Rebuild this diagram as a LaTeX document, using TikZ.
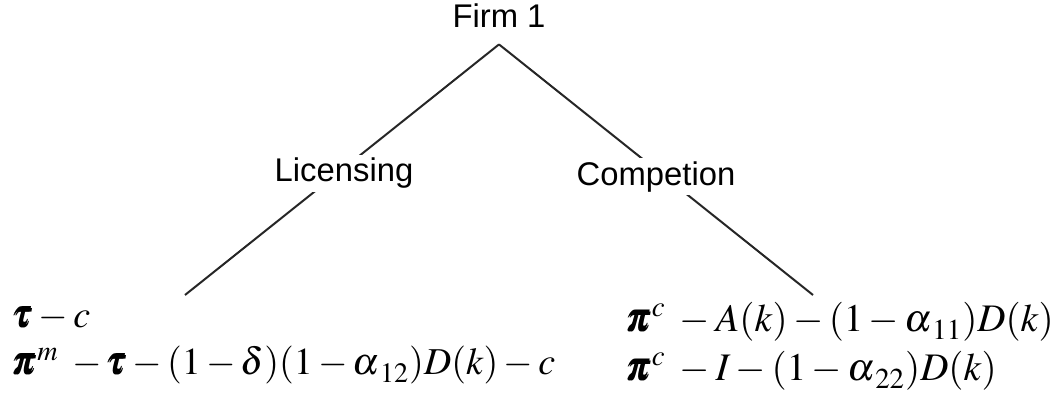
\documentclass[tikz,border=0pt]{standalone}
\usepackage{amsmath,amssymb}
\usepackage{mathptmx}
\usepackage[no-math]{fontspec}
\setmainfont{Liberation Sans}
\usetikzlibrary{positioning}
\newcommand{\alsub}[1]{\alpha_{\mkern2mu\vphantom{(}#1}}

\begin{document}
\begin{tikzpicture}[
    x=0.5pt, y=-0.5pt,
    lbl/.style={font=\fontsize{16.4}{20}\selectfont},
    choice/.style={lbl, fill=white, inner sep=1.5pt},
    payoff/.style={font=\fontsize{19}{23}\selectfont, anchor=base west, inner sep=0pt},
    bigpayoff/.style={payoff, font=\fontsize{19.5}{24}\selectfont},
    branch/.style={line width=1pt, draw=black!85}
]
\useasboundingbox (0,0) rectangle (1063,406);
\node[lbl, anchor=base, inner sep=8pt] (firm) at (499,28) {Firm 1};
\coordinate (licend) at (185,295);
\coordinate (comend) at (813,295);
\draw[branch] (firm.south) -- (licend);
\draw[branch] (firm.south) -- (comend);
\node[choice, anchor=base] (lic) at (344,182) {Licensing};
\node[choice, anchor=base] (com) at (656,185) {Competion};

\node[payoff] (licpay1) at (13,327) {$\pmb{\tau}-c$};
\node[payoff] (licpay2) at (13,374) {$\pmb{\pi}^{m}\;-\pmb{\tau}-(1-\delta)(1-\alsub{12})D(k)-c$};
\node[bigpayoff] (compay1) at (627,331) {$\pmb{\pi}^{c}\;-A(k)-(1-\alsub{11})D(k)$};
\node[bigpayoff] (compay2) at (627,380) {$\pmb{\pi}^{c}\;-I-(1-\alsub{22})D(k)$};
\end{tikzpicture}
\end{document}
